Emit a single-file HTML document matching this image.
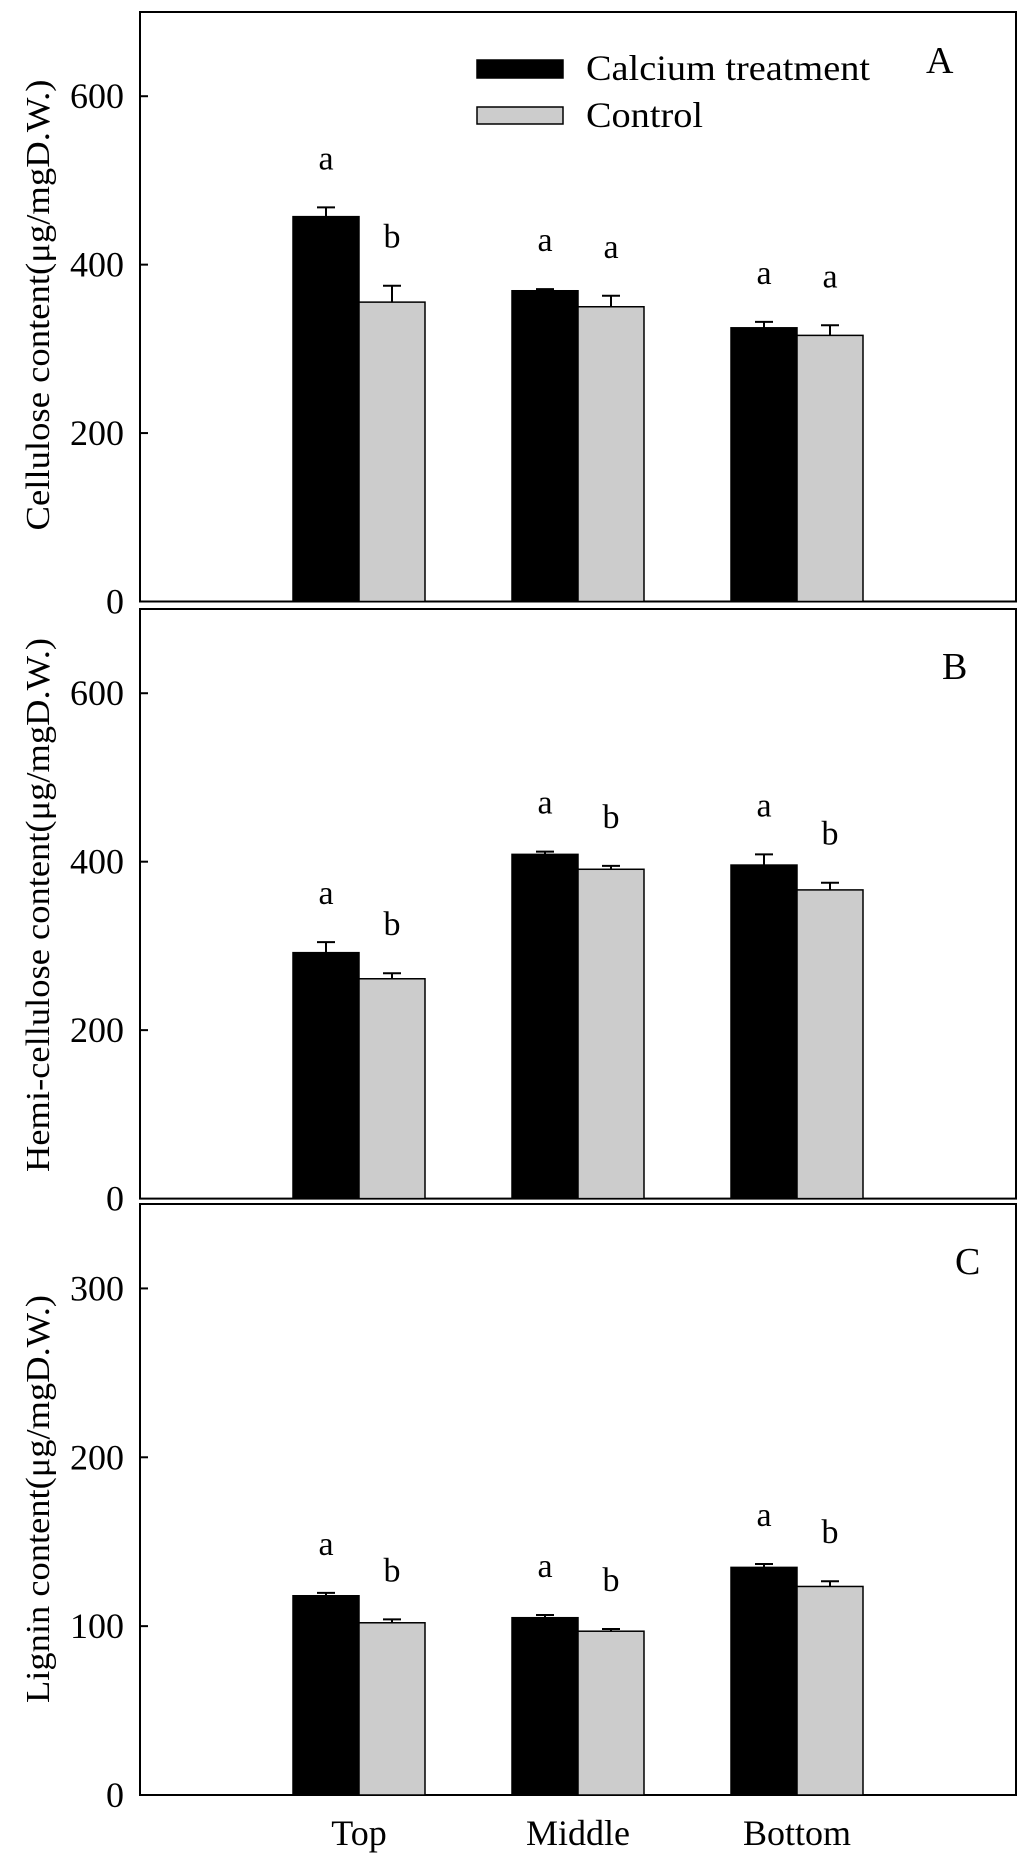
<!DOCTYPE html>
<html><head><meta charset="utf-8"><style>
html,body{margin:0;padding:0;background:#fff}
svg{display:block}
text{font-family:"Liberation Serif",serif;fill:#000}
</style></head><body>
<svg id="chart" width="1024" height="1862" viewBox="0 0 1024 1862"></svg>
<script>
const categories = ["Top","Middle","Bottom"];
const seriesNames = ["Calcium treatment","Control"];
const cellCa = [457,369,325];
const cellCaErr = [11,2,7];
const cellCtl = [355.5,350,316];
const cellCtlErr = [19.5,13,12];
const cellCaSig = ["a","a","a"];
const cellCtlSig = ["b","a","a"];
const hemiCa = [292,408.7,396];
const hemiCaErr = [12.5,3.3,12.7];
const hemiCtl = [261,391,366.5];
const hemiCtlErr = [6.6,4,8.5];
const hemiCaSig = ["a","a","a"];
const hemiCtlSig = ["b","b","b"];
const ligCa = [118,105,134.8];
const ligCaErr = [1.7,1.6,2];
const ligCtl = [102,97,123.5];
const ligCtlErr = [2,1.3,3.1];
const ligCaSig = ["a","a","a"];
const ligCtlSig = ["b","b","b"];
const cellTicks = [0,200,400,600];
const hemiTicks = [0,200,400,600];
const ligTicks = [0,100,200,300];

const NS="http://www.w3.org/2000/svg";
const svg=document.getElementById('chart');
function mk(tag,attrs,parent,txt){const e=document.createElementNS(NS,tag);for(const k in attrs)e.setAttribute(k,attrs[k]);if(txt!==undefined)e.textContent=txt;(parent||svg).appendChild(e);return e;}

const X0=140,X1=1016;
function xScale(i){return X0+(X1-X0)*(i+1)/(categories.length+1);}
const BW=66;

function panel(cfg){
  const g=mk('g',{},svg);
  
  
  const y=v=>cfg.y0-(cfg.y0-cfg.yTop)*v/cfg.max;
  const frame=mk('rect',{x:X0,y:cfg.yTop,width:X1-X0,height:cfg.y0-cfg.yTop,fill:'none',stroke:'#000','stroke-width':2},g);
  
  
  cfg.ticks.forEach(t=>{
    const ty=y(t);
    if(t>0){const tk=mk('line',{x1:X0,x2:X0+8,y1:ty,y2:ty,stroke:'#000','stroke-width':2},g);
      
      }
    const tl=mk('text',{x:124,y:ty+12,'font-size':36,'text-anchor':'end'},g,String(t));
    
    
  });
  const yl=mk('text',{x:0,y:0,'font-size':34,'text-anchor':'middle',transform:`translate(49,${cfg.labelY}) rotate(-90)`,textLength:cfg.labelLen,lengthAdjust:'spacingAndGlyphs'},g,cfg.label);
  
  
  const pl=mk('text',{x:cfg.letterX,y:cfg.letterY,'font-size':38},g,cfg.letter);
  
  
  [[cfg.ca,cfg.caErr,cfg.caSig,'#000',-1],[cfg.ctl,cfg.ctlErr,cfg.ctlSig,'#cccccc',0]].forEach((s,si)=>{
    s[0].forEach((v,i)=>{
      const bx=xScale(i)+s[4]*BW;
      const top=y(v), et=y(v+s[1][i]);
      const ex=bx+BW/2;
      const el=mk('line',{x1:ex,x2:ex,y1:top,y2:et,stroke:'#000','stroke-width':2},g);
      
      
      const ec=mk('line',{x1:ex-9,x2:ex+9,y1:et,y2:et,stroke:'#000','stroke-width':2},g);
      
      
      const r=mk('rect',{x:bx,y:top,width:BW,height:cfg.y0-top,fill:s[3],stroke:'#000','stroke-width':1.5},g);
      
      
      const st=mk('text',{x:ex,y:et-38,'font-size':34,'text-anchor':'middle'},g,s[2][i]);
      
      
    });
  });
  return g;
}

panel({name:'cellulose-panel',yTop:12,y0:601.5,max:700,ticks:cellTicks,label:'Cellulose content(μg/mgD.W.)',labelY:305,labelLen:451,letter:'A',letterX:926,letterY:73,ca:cellCa,caErr:cellCaErr,ctl:cellCtl,ctlErr:cellCtlErr,caSig:cellCaSig,ctlSig:cellCtlSig});
panel({name:'hemicellulose-panel',yTop:609,y0:1198.6,max:700,ticks:hemiTicks,label:'Hemi-cellulose content(μg/mgD.W.)',labelY:905,labelLen:534,letter:'B',letterX:942,letterY:679,ca:hemiCa,caErr:hemiCaErr,ctl:hemiCtl,ctlErr:hemiCtlErr,caSig:hemiCaSig,ctlSig:hemiCtlSig});
panel({name:'lignin-panel',yTop:1204,y0:1795,max:350,ticks:ligTicks,label:'Lignin content(μg/mgD.W.)',labelY:1499,labelLen:408,letter:'C',letterX:955,letterY:1274,ca:ligCa,caErr:ligCaErr,ctl:ligCtl,ctlErr:ligCtlErr,caSig:ligCaSig,ctlSig:ligCtlSig});

categories.forEach((c,i)=>{
  const t=mk('text',{x:xScale(i),y:1845,'font-size':36,'text-anchor':'middle'},svg,c);
  
  
});

const leg=mk('g',{},svg);


const b1=mk('rect',{x:477,y:60,width:86,height:18,fill:'#000',stroke:'#000','stroke-width':1.5},leg);


const t1=mk('text',{x:586,y:80,'font-size':36,textLength:284,lengthAdjust:'spacingAndGlyphs'},leg,seriesNames[0]);


const b2=mk('rect',{x:477,y:107,width:86,height:17,fill:'#cccccc',stroke:'#000','stroke-width':1.5},leg);


const t2=mk('text',{x:586,y:127,'font-size':36,textLength:117,lengthAdjust:'spacingAndGlyphs'},leg,seriesNames[1]);


</script>
</body></html>
